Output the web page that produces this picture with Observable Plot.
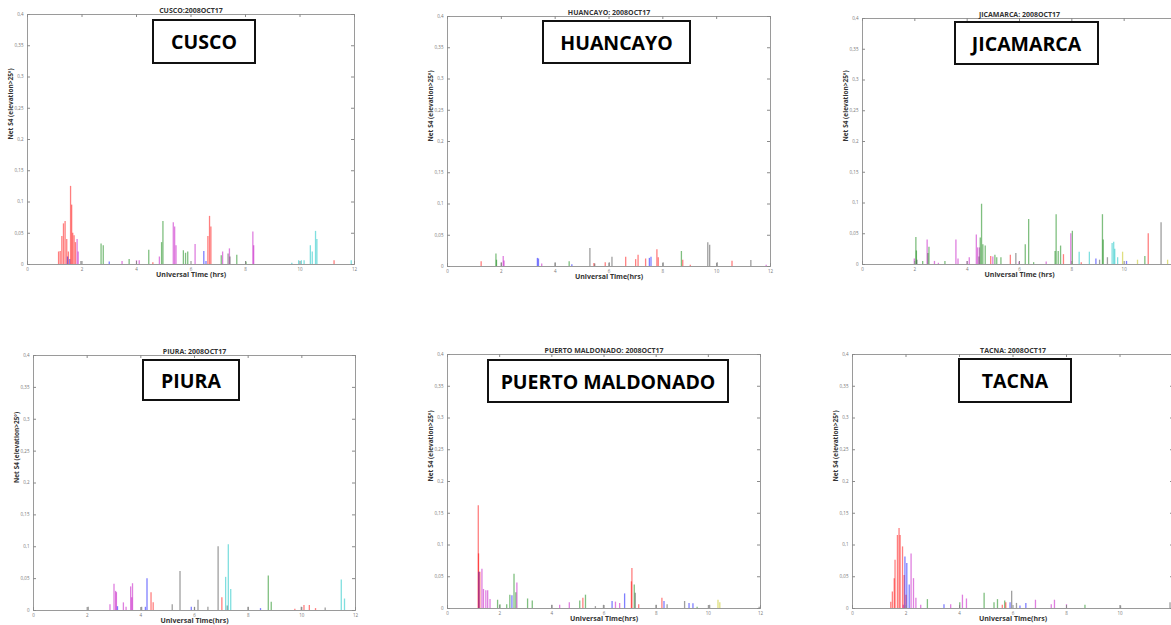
<!DOCTYPE html>
<html>
<head>
<meta charset="utf-8">
<script src="https://cdn.jsdelivr.net/npm/d3@7"></script>
<script src="https://cdn.jsdelivr.net/npm/@observablehq/plot@0.6"></script>
<style>
  body { margin: 0; background: #fff; }
  #page { position: relative; width: 1171px; height: 625px; overflow: hidden; background: #fff; font-family: "Open Sans", sans-serif; }
  .panel { position: absolute; }
  .panel svg { max-width: none !important; display: block; }
  .tag { position: absolute; box-sizing: border-box; border: 2px solid #111; background: #fff;
         display: flex; align-items: center; justify-content: center;
         font-family: "Open Sans", sans-serif; font-weight: 700; font-size: 19.5px; color: #000; }
</style>
</head>
<body>
<div id="page"></div>
<script>
// Net S4 scintillation index (elevation > 25°), 17 Oct 2008.
// Each entry: [universal time (h), S4, satellite trace code]
const cusco = [
  [1.14,0.020,"r"],[1.20,0.021,"r"],[1.26,0.045,"r"],[1.32,0.065,"r"],[1.38,0.069,"r"],[1.44,0.040,"r"],
  [1.47,0.012,"b"],[1.50,0.020,"r"],[1.55,0.008,"b"],[1.58,0.125,"r"],[1.62,0.095,"r"],[1.66,0.050,"r"],
  [1.71,0.046,"r"],[1.76,0.035,"r"],[1.82,0.040,"m"],[1.86,0.020,"m"],[1.96,0.005,"k"],
  [2.70,0.033,"g"],[2.78,0.030,"g"],[3.00,0.004,"b"],[3.47,0.005,"m"],[3.73,0.008,"g"],
  [4.00,0.006,"m"],[4.10,0.006,"m"],[4.45,0.023,"g"],[4.60,0.003,"r"],[4.84,0.012,"m"],
  [4.92,0.035,"g"],[4.97,0.069,"g"],[5.35,0.067,"m"],[5.40,0.060,"m"],[5.45,0.030,"m"],
  [5.72,0.022,"g"],[5.80,0.018,"g"],[5.88,0.020,"g"],[6.15,0.032,"m"],[6.47,0.021,"b"],[6.55,0.005,"b"],
  [6.62,0.045,"r"],[6.68,0.077,"r"],[6.73,0.060,"r"],[7.11,0.014,"g"],[7.16,0.020,"m"],
  [7.36,0.017,"k"],[7.41,0.025,"m"],[7.43,0.012,"k"],[7.68,0.015,"g"],[8.02,0.004,"g"],
  [8.27,0.052,"m"],[8.30,0.030,"m"],[9.70,0.002,"c"],[9.95,0.006,"c"],[10.05,0.006,"c"],[10.15,0.006,"c"],
  [10.38,0.030,"c"],[10.45,0.020,"c"],[10.57,0.053,"c"],[10.62,0.040,"c"],[11.25,0.006,"r"],[11.88,0.006,"c"]
];
const huancayo = [
  [1.25,0.0075,"r"],[1.80,0.020,"g"],[1.82,0.010,"g"],[2.00,0.006,"k"],[2.07,0.016,"m"],[2.10,0.009,"m"],
  [3.34,0.013,"b"],[3.38,0.012,"b"],[3.50,0.004,"m"],[4.00,0.006,"k"],[4.52,0.0075,"g"],[4.62,0.003,"b"],
  [5.29,0.029,"k"],[5.44,0.005,"r"],[5.47,0.004,"k"],[5.86,0.006,"r"],[6.01,0.006,"k"],[6.11,0.015,"k"],
  [6.62,0.015,"r"],[6.99,0.011,"r"],[7.08,0.018,"r"],[7.36,0.012,"r"],[7.50,0.013,"b"],[7.56,0.015,"b"],
  [7.78,0.027,"r"],[7.83,0.014,"r"],[8.01,0.006,"k"],[8.69,0.024,"g"],[8.74,0.010,"r"],[9.02,0.002,"r"],
  [9.67,0.038,"k"],[9.74,0.034,"k"],[10.02,0.006,"k"],[10.57,0.0085,"r"],[11.27,0.0095,"k"],[11.84,0.002,"m"]
];
const jicamarca = [
  [1.98,0.009,"m"],[2.04,0.044,"g"],[2.06,0.022,"g"],[2.08,0.007,"k"],[2.30,0.005,"g"],[2.47,0.040,"m"],
  [2.50,0.018,"k"],[2.54,0.028,"g"],[2.75,0.005,"m"],[2.90,0.002,"m"],[3.15,0.005,"g"],[3.57,0.040,"m"],
  [3.65,0.009,"m"],[4.00,0.005,"m"],[4.08,0.011,"m"],[4.35,0.048,"m"],[4.40,0.027,"m"],[4.45,0.012,"k"],
  [4.47,0.027,"m"],[4.50,0.043,"g"],[4.55,0.098,"g"],[4.60,0.032,"g"],[4.69,0.030,"g"],[4.90,0.013,"r"],
  [4.98,0.012,"m"],[5.06,0.015,"g"],[5.13,0.011,"g"],[5.29,0.011,"g"],[5.65,0.015,"r"],[5.86,0.018,"k"],
  [5.98,0.004,"m"],[6.22,0.032,"g"],[6.35,0.073,"g"],[6.54,0.003,"g"],[7.02,0.004,"m"],[7.36,0.021,"g"],
  [7.40,0.081,"g"],[7.48,0.021,"g"],[7.57,0.030,"g"],[7.68,0.016,"r"],[7.96,0.050,"m"],[8.02,0.054,"g"],
  [8.28,0.020,"c"],[8.36,0.003,"r"],[8.67,0.020,"c"],[8.92,0.009,"b"],[9.06,0.007,"k"],[9.17,0.081,"g"],
  [9.20,0.040,"g"],[9.36,0.011,"k"],[9.54,0.034,"c"],[9.60,0.036,"c"],[9.64,0.025,"c"],[9.75,0.011,"c"],
  [9.94,0.020,"y"],[10.09,0.005,"b"],[10.51,0.007,"y"],[10.79,0.013,"g"],[10.92,0.050,"r"],[11.41,0.068,"k"],
  [11.66,0.007,"y"]
];
const piura = [
  [2.04,0.005,"k"],[2.85,0.009,"m"],[3.00,0.041,"m"],[3.06,0.030,"m"],[3.09,0.028,"m"],[3.13,0.006,"b"],
  [3.35,0.012,"m"],[3.45,0.005,"m"],[3.62,0.037,"m"],[3.66,0.020,"m"],[3.69,0.042,"m"],[4.03,0.005,"k"],
  [4.17,0.005,"b"],[4.23,0.050,"b"],[4.38,0.028,"r"],[4.46,0.012,"r"],[5.17,0.009,"k"],[5.46,0.061,"k"],
  [5.88,0.005,"b"],[6.00,0.005,"k"],[6.13,0.016,"k"],[6.50,0.005,"k"],[6.88,0.100,"k"],[7.02,0.020,"r"],
  [7.16,0.052,"c"],[7.22,0.007,"k"],[7.26,0.103,"c"],[7.35,0.033,"c"],[8.00,0.005,"k"],[8.46,0.003,"b"],
  [8.75,0.054,"g"],[8.86,0.013,"g"],[9.74,0.002,"r"],[9.98,0.005,"k"],[10.08,0.008,"r"],[10.28,0.008,"r"],
  [10.51,0.003,"r"],[10.87,0.004,"k"],[11.47,0.048,"c"],[11.59,0.018,"c"]
];
const puertoMaldonado = [
  [1.18,0.162,"r"],[1.19,0.086,"r"],[1.21,0.057,"b"],[1.24,0.057,"r"],[1.32,0.062,"m"],[1.38,0.030,"m"],
  [1.47,0.028,"m"],[1.54,0.028,"m"],[1.63,0.014,"m"],[1.92,0.013,"g"],[2.01,0.006,"g"],[2.27,0.006,"g"],
  [2.39,0.021,"g"],[2.47,0.020,"b"],[2.55,0.054,"g"],[2.62,0.025,"g"],[2.66,0.040,"m"],[3.07,0.015,"g"],
  [3.25,0.012,"g"],[4.00,0.005,"k"],[4.30,0.005,"m"],[4.67,0.009,"m"],[5.07,0.012,"g"],[5.19,0.016,"r"],
  [5.29,0.021,"g"],[5.67,0.003,"k"],[5.98,0.005,"k"],[6.31,0.011,"b"],[6.44,0.010,"m"],[6.60,0.008,"m"],
  [6.79,0.023,"b"],[7.05,0.042,"r"],[7.07,0.063,"r"],[7.16,0.037,"g"],[7.20,0.024,"k"],[7.33,0.006,"r"],
  [8.00,0.005,"k"],[8.22,0.016,"r"],[8.30,0.011,"b"],[8.42,0.006,"k"],[9.09,0.011,"k"],[9.26,0.008,"b"],
  [9.41,0.0075,"b"],[9.57,0.002,"g"],[10.05,0.005,"k"],[10.37,0.013,"y"],[10.44,0.009,"y"],[11.95,0.002,"k"]
];
const tacna = [
  [1.43,0.010,"r"],[1.49,0.026,"r"],[1.56,0.047,"r"],[1.59,0.076,"r"],[1.68,0.115,"r"],[1.74,0.126,"r"],
  [1.78,0.115,"r"],[1.87,0.097,"r"],[1.90,0.005,"m"],[1.93,0.052,"r"],[1.96,0.081,"b"],[2.00,0.021,"r"],
  [2.03,0.071,"b"],[2.12,0.037,"b"],[2.19,0.086,"m"],[2.28,0.047,"m"],[2.37,0.016,"m"],[2.55,0.005,"m"],
  [2.80,0.014,"g"],[3.42,0.006,"b"],[3.67,0.006,"m"],[4.01,0.009,"g"],[4.11,0.021,"m"],[4.26,0.015,"m"],
  [4.92,0.024,"g"],[5.29,0.009,"g"],[5.42,0.014,"g"],[5.60,0.005,"r"],[5.69,0.012,"g"],[5.73,0.009,"r"],
  [5.89,0.009,"b"],[5.95,0.027,"k"],[6.13,0.008,"k"],[6.26,0.004,"b"],[6.48,0.008,"b"],[6.84,0.013,"m"],
  [7.43,0.006,"m"],[7.55,0.013,"m"],[8.00,0.006,"m"],[8.69,0.005,"g"],[10.02,0.004,"k"],[11.87,0.009,"k"]
];

// Station names, titles and axis texts
const stationNames = ["CUSCO", "HUANCAYO", "JICAMARCA", "PIURA", "PUERTO MALDONADO", "TACNA"];
const titles = ["CUSCO:2008OCT17", "HUANCAYO: 2008OCT17", "JICAMARCA: 2008OCT17",
                "PIURA: 2008OCT17", "PUERTO MALDONADO: 2008OCT17", "TACNA: 2008OCT17"];
const xLabels = ["Universal Time (hrs)", "Universal Time(hrs)", "Universal Time (hrs)",
                 "Universal Time(hrs)", "Universal Time(hrs)", "Universal Time(hrs)"];
const yLabel = "Net S4 (elevation>25º)";

// Axis ticks
const xTicks = [0, 2, 4, 6, 8, 10, 12];
const xTickLabels = ["0", "2", "4", "6", "8", "10", "12"];
const yTicks = [0, 0.05, 0.1, 0.15, 0.2, 0.25, 0.3, 0.35, 0.4];
const yTickLabels = ["0", "0,05", "0,1", "0,15", "0,2", "0,25", "0,3", "0,35", "0,4"];

// Satellite trace codes (plot colour order)
const traceCodes = ["b", "g", "r", "c", "m", "y", "k"];
const traceColors = ["#0000ff", "#008000", "#ff0000", "#00bfbf", "#bf00bf", "#bfbf00", "#404040"];

const stationData = [cusco, huancayo, jicamarca, piura, puertoMaldonado, tacna];

// Page layout: inner frame of each panel and its name box (page pixels)
const pageWidth = 1171;
const frames = [
  {left: 27,  right: 354,  top: 14,  bottom: 264, box: [152, 19, 104, 45]},
  {left: 447, right: 770,  top: 16,  bottom: 266, box: [542, 20, 149, 44]},
  {left: 862, right: 1176, top: 18,  bottom: 264, box: [954, 21, 145, 44]},
  {left: 33,  right: 355,  top: 355, bottom: 610, box: [142, 359, 98, 42]},
  {left: 447, right: 760,  top: 354, bottom: 608, box: [487, 359, 242, 44]},
  {left: 852, right: 1173, top: 354, bottom: 608, box: [958, 358, 114, 45]}
];

const page = document.getElementById("page");
const mL = 34, mR = 8, mT = 18, mB = 22;

stationData.forEach((data, k) => {
  const f = frames[k];
  const innerW = f.right - f.left, innerH = f.bottom - f.top;
  const rows = data.map(([t, s4, trace]) => ({t, s4, trace}));
  const tickStroke = "#8a8a8a";
  const width = innerW + mL + mR, height = innerH + mT + mB;
  // panels running past the page edge only label the ticks that stay on the page
  const labelledX = xTicks.filter(t => f.left + t / 12 * innerW + 4 <= pageWidth);
  const chart = Plot.plot({
    width, height,
    marginLeft: mL, marginRight: mR, marginTop: mT, marginBottom: mB,
    style: {fontFamily: "'Open Sans', sans-serif", background: "transparent", overflow: "visible", maxWidth: "none"},
    x: {domain: [0, 12], label: null},
    y: {domain: [0, 0.4], label: null},
    color: {domain: traceCodes, range: traceColors},
    marks: [
      Plot.ruleX(rows, {x: "t", y1: 0, y2: "s4", stroke: "trace", strokeWidth: 1.3, strokeOpacity: 0.5}),
      Plot.frame({stroke: "#9a9a9a"}),
      // inward ticks on all four sides
      Plot.tickX(xTicks, {x: d => d, stroke: tickStroke, insetTop: innerH - 3}),
      Plot.tickX(xTicks, {x: d => d, stroke: tickStroke, insetBottom: innerH - 3}),
      Plot.tickY(yTicks, {y: d => d, stroke: tickStroke, insetRight: innerW - 3}),
      Plot.tickY(yTicks, {y: d => d, stroke: tickStroke, insetLeft: innerW - 3}),
      Plot.axisX(labelledX, {tickSize: 0, tickPadding: 3, fontSize: 4.5, fill: "#777", label: null,
                             tickFormat: d => xTickLabels[xTicks.indexOf(d)]}),
      Plot.axisY(yTicks, {tickSize: 0, tickPadding: 4, fontSize: 4.5, fill: "#777", label: null,
                          tickFormat: d => yTickLabels[yTicks.indexOf(d)]}),
      Plot.text([titles[k]], {frameAnchor: "top", dy: -6, fontSize: 7, fontWeight: "bold", fill: "#333"}),
      Plot.text([xLabels[k]], {frameAnchor: "bottom", dy: 12.5, fontSize: 7, fontWeight: "bold", fill: "#333"}),
      Plot.text([yLabel], {frameAnchor: "left", dx: -17, rotate: -90, fontSize: 6.5, fontWeight: "bold", fill: "#333"})
    ]
  });
  const wrap = document.createElement("div");
  wrap.className = "panel";
  wrap.style.left = (f.left - mL) + "px";
  wrap.style.top = (f.top - mT) + "px";
  wrap.style.width = width + "px";
  wrap.style.height = height + "px";
  wrap.appendChild(chart);
  page.appendChild(wrap);

  const [bx, by, bw, bh] = f.box;
  const tag = document.createElement("div");
  tag.className = "tag";
  tag.style.left = bx + "px";
  tag.style.top = by + "px";
  tag.style.width = bw + "px";
  tag.style.height = bh + "px";
  tag.textContent = stationNames[k];
  page.appendChild(tag);
});
</script>
</body>
</html>
